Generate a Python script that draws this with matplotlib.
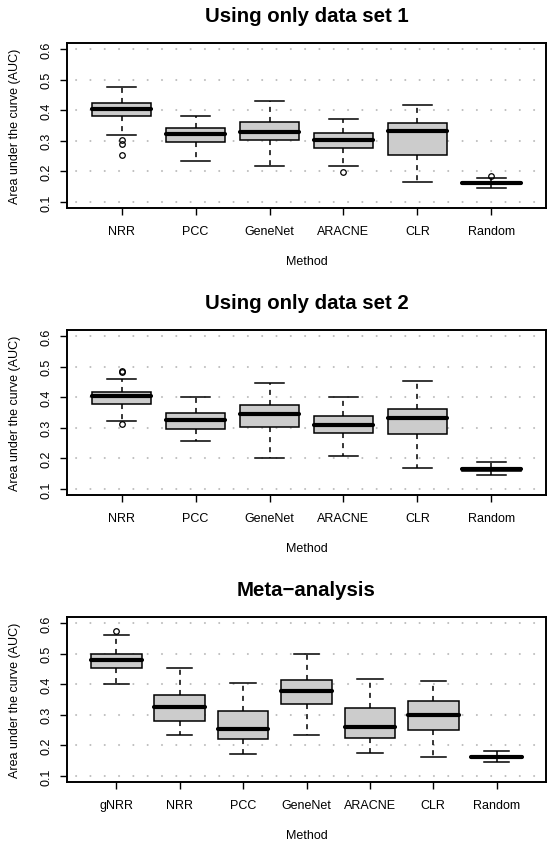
import matplotlib
matplotlib.use('Agg')
import matplotlib.pyplot as plt

plt.rcParams['font.family'] = ['Liberation Sans', 'DejaVu Sans']

titles = ['Using only data set 1', 'Using only data set 2', 'Meta\u2212analysis']
methods_single = ['NRR', 'PCC', 'GeneNet', 'ARACNE', 'CLR', 'Random']
methods_meta = ['gNRR', 'NRR', 'PCC', 'GeneNet', 'ARACNE', 'CLR', 'Random']
yticks = [0.1, 0.2, 0.3, 0.4, 0.5, 0.6]

# five numbers per method: lower whisker, q1, median, q3, upper whisker
set1_stats = [
    (0.319, 0.380, 0.403, 0.4235, 0.475),
    (0.233, 0.295, 0.321, 0.341, 0.381),
    (0.217, 0.3015, 0.330, 0.3625, 0.429),
    (0.219, 0.2765, 0.303, 0.3255, 0.372),
    (0.164, 0.2536, 0.331, 0.357, 0.417),
    (0.147, 0.159, 0.162, 0.166, 0.1795),
]
set1_fliers = [[0.302, 0.290, 0.255], [], [], [0.197], [], [0.186]]

set2_stats = [
    (0.3228, 0.378, 0.4033, 0.4185, 0.4598),
    (0.2576, 0.2957, 0.326, 0.350, 0.401),
    (0.202, 0.304, 0.3457, 0.374, 0.4467),
    (0.2065, 0.2815, 0.3098, 0.339, 0.401),
    (0.1685, 0.2804, 0.3315, 0.361, 0.452),
    (0.1467, 0.160, 0.164, 0.168, 0.187),
]
set2_fliers = [[0.483, 0.487, 0.314], [], [], [], [], []]

meta_stats = [
    (0.401, 0.452, 0.478, 0.499, 0.561),
    (0.235, 0.279, 0.324, 0.365, 0.452),
    (0.1717, 0.2207, 0.252, 0.314, 0.405),
    (0.2348, 0.3348, 0.3793, 0.414, 0.500),
    (0.174, 0.225, 0.2587, 0.3207, 0.4163),
    (0.163, 0.249, 0.300, 0.3467, 0.412),
    (0.1467, 0.159, 0.162, 0.166, 0.1826),
]
meta_fliers = [[0.574], [], [], [], [], [], []]

W, H = 548, 845
fig = plt.figure(figsize=(W / 100, H / 100), dpi=100)

panels = [
    (titles[0], methods_single, set1_stats, set1_fliers, 44),
    (titles[1], methods_single, set2_stats, set2_fliers, 331),
    (titles[2], methods_meta, meta_stats, meta_fliers, 618),
]

ax_left, ax_right, ax_h = 67, 546, 165
fs = 9

for title, names, stats, fliers, top in panels:
    ax = fig.add_axes([ax_left / W, 1 - (top + ax_h) / H, (ax_right - ax_left) / W, ax_h / H])
    n = len(names)
    pos = list(range(1, n + 1))

    bstats = []
    for (lo, q1, med, q3, hi), fl in zip(stats, fliers):
        bstats.append(dict(whislo=lo, q1=q1, med=med, q3=q3, whishi=hi, fliers=fl))

    ax.bxp(bstats, positions=pos, widths=0.8, patch_artist=True,
           boxprops=dict(facecolor='#cccccc', edgecolor='black', linewidth=1.1),
           whiskerprops=dict(color='black', linewidth=1.1, linestyle=(0, (3.3, 3.3))),
           capprops=dict(color='black', linewidth=1.1),
           medianprops=dict(color='black', linewidth=3.0, solid_capstyle='round'),
           flierprops=dict(marker='o', markerfacecolor='none', markeredgecolor='black',
                           markersize=4, markeredgewidth=0.9))

    # dotted horizontal grid like R's grid()
    for yv in yticks:
        ax.axhline(yv, color='#bdbdbd', linewidth=1.5, linestyle=(2.5, (0.01, 6.86)),
                   dash_capstyle='round', zorder=0.5)

    ax.set_xlim(0.5 - 0.04 * n, n + 0.5 + 0.04 * n)
    ax.set_ylim(0.08, 0.62)
    ax.set_xticks(pos)
    ax.set_xticklabels(names, fontsize=fs)
    ax.set_yticks(yticks)
    ax.set_yticklabels(['%.1f' % v for v in yticks], fontsize=fs)
    ax.tick_params(axis='y', labelrotation=90, length=5, width=1, pad=5.5)
    ax.tick_params(axis='x', length=5, width=1, pad=7)
    for label in ax.get_yticklabels():
        label.set_va('center')
    for sp in ax.spines.values():
        sp.set_linewidth(1.4)

    ax.text(0.5, 1 + 22 / ax_h, title, transform=ax.transAxes, ha='center',
            va='baseline', fontsize=14.7, fontweight='bold')
    ax.text(0.5, -53 / ax_h, 'Method', transform=ax.transAxes, ha='center',
            va='center', fontsize=fs)
    ax.text(-(ax_left - 15) / (ax_right - ax_left), 0.5, 'Area under the curve (AUC)',
            transform=ax.transAxes, rotation=90, ha='center', va='center', fontsize=fs)

fig.savefig('out.png', dpi=100)
